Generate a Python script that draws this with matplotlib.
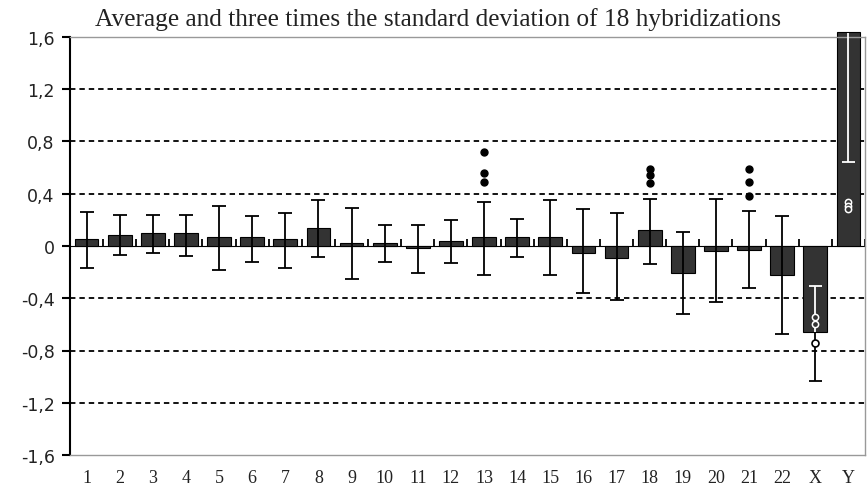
import matplotlib.pyplot as plt
import numpy as np

# chromosome categories and values
cats = [str(i) for i in range(1, 23)] + ['X', 'Y']
means = [0.054, 0.084, 0.097, 0.097, 0.066, 0.066, 0.054, 0.135, 0.023, 0.023, -0.018, 0.036,
         0.066, 0.066, 0.066, -0.05, -0.092, 0.12, -0.21, -0.036, -0.03, -0.22, -0.66, 1.64]
err_hi = [0.26, 0.24, 0.24, 0.24, 0.31, 0.23, 0.25, 0.35, 0.29, 0.16, 0.16, 0.20,
          0.34, 0.21, 0.35, 0.28, 0.25, 0.36, 0.105, 0.36, 0.27, 0.23, -0.31, 1.63]
err_lo = [-0.17, -0.07, -0.05, -0.074, -0.18, -0.12, -0.17, -0.087, -0.25, -0.12, -0.21, -0.13,
          -0.22, -0.087, -0.22, -0.36, -0.41, -0.14, -0.52, -0.43, -0.32, -0.67, -1.03, 0.64]

# outlier hybridizations
out_cat = ['13', '13', '13', '18', '18', '18', '21', '21', '21']
out_val = [0.72, 0.56, 0.49, 0.59, 0.54, 0.48, 0.59, 0.49, 0.38]
open_cat = ['X', 'X', 'X', 'Y', 'Y', 'Y']
open_val = [-0.54, -0.60, -0.74, 0.34, 0.31, 0.28]

ytick_vals = [-1.6, -1.2, -0.8, -0.4, 0, 0.4, 0.8, 1.2, 1.6]
ytick_labels = ['-1,6', '-1,2', '-0,8', '-0,4', '0', '0,4', '0,8', '1,2', '1,6']

title = 'Average and three times the standard deviation of 18 hybridizations'

x = np.arange(len(cats))
means = np.array(means)
err_hi = np.array(err_hi)
err_lo = np.array(err_lo)
bar_col = '#333333'

fig = plt.figure(figsize=(8.67, 4.89), dpi=100)
ax = fig.add_axes([70/867, 1 - 456/489, 795/867, 418/489])

for g in [-1.2, -0.8, -0.4, 0.4, 0.8, 1.2]:
    ax.axhline(g, color='black', lw=1.3, dashes=(3.0, 2.2), zorder=1)

bars = ax.bar(x, means, width=0.72, color=bar_col, edgecolor='black', lw=0.8, zorder=2)
bars[-1].set_clip_on(False)

# ordinary error bars (autosomes)
n = 22
ax.errorbar(x[:n], means[:n], yerr=[means[:n] - err_lo[:n], err_hi[:n] - means[:n]],
            fmt='none', ecolor='black', elinewidth=1.3, capsize=4.7, capthick=1.3, zorder=3)

# X: part inside the bar white, part below black
cw = 0.2
ax.vlines(x[22], err_lo[22], means[22], color='black', lw=1.3, zorder=3)
ax.hlines(err_lo[22], x[22] - cw, x[22] + cw, color='black', lw=1.3, zorder=3)
ax.vlines(x[22], means[22], err_hi[22], color='white', lw=1.3, zorder=3)
ax.hlines(err_hi[22], x[22] - cw, x[22] + cw, color='white', lw=1.3, zorder=3)
# Y: all inside the bar
ax.vlines(x[23], err_lo[23], err_hi[23], color='white', lw=1.3, zorder=3, clip_on=False)
ax.hlines(err_lo[23], x[23] - cw, x[23] + cw, color='white', lw=1.3, zorder=3)

ox = [cats.index(c) for c in out_cat]
ax.plot(ox, out_val, 'o', color='black', ms=5, zorder=4)
for c, v in zip(open_cat, open_val):
    i = cats.index(c)
    inside = min(0, means[i]) <= v <= max(0, means[i])
    if inside:
        ax.plot(i, v, 'o', mfc=bar_col, mec='white', ms=4.5, mew=1.1, zorder=4)
    else:
        ax.plot(i, v, 'o', mfc='white', mec='black', ms=5, mew=1.2, zorder=4)

ax.set_xlim(-0.5, len(cats) - 0.5)
ax.set_ylim(-1.6, 1.6)
ax.set_yticks(ytick_vals)
ax.set_yticklabels(ytick_labels, fontsize=12.5, family='DejaVu Sans', color='#222222')
ax.set_xticks(x)
ax.set_xticklabels(cats, fontsize=13, family='Liberation Serif', color='#222222')
ax.tick_params(axis='x', length=0, pad=10)
ax.tick_params(axis='y', length=6, width=1.5, direction='out', pad=5)

for s in ['top', 'right', 'bottom']:
    ax.spines[s].set_color('#999999')
    ax.spines[s].set_linewidth(1.0)
ax.spines['left'].set_color('black')
ax.spines['left'].set_linewidth(1.5)

# category axis line through zero with boundary ticks
sec = ax.secondary_xaxis(0.5)
sec.spines['bottom'].set_linewidth(1.5)
sec.set_xticks(np.arange(len(cats) + 1) - 0.5)
sec.set_xticklabels([])
sec.tick_params(length=5, width=1.3, direction='out')

fig.text(438/867, 1 - 20/489, title, ha='center', va='center',
         fontsize=18.3, family='Liberation Serif', color='#222222')

fig.savefig('out.png', dpi=100)
